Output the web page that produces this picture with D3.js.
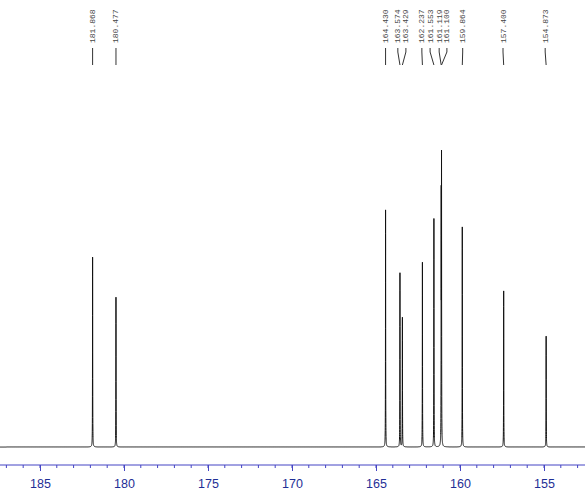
<!DOCTYPE html>
<html>
<head>
<meta charset="utf-8">
<script src="https://cdn.jsdelivr.net/npm/d3@7"></script>
<style>
  body { margin: 0; background: #fff; }
  svg { display: block; }
</style>
</head>
<body>
<div id="chart"></div>
<script>
const width = 585;
const height = 502;

// peak list: shift (ppm) and relative height
const shifts = [181.868, 180.477, 164.430, 163.574, 163.429, 162.237, 161.553, 161.119, 161.100, 159.864, 157.400, 154.873];
const heights = [63.5, 51.5, 79.3, 58.2, 44.5, 63.5, 78.5, 80.5, 92, 73.6, 52.2, 38.1];
// where each label sits (ppm) when crowded
const labelPos = [181.868, 180.477, 164.430, 163.70, 163.22, 162.27, 161.78, 161.24, 160.78, 159.84, 157.44, 154.93];
const majorTicks = [185, 180, 175, 170, 165, 160, 155];

var x = d3.scaleLinear().domain([187.38, 152.56]).range([0, width]);
var y = d3.scaleLinear().domain([0, 100]).range([447, 148]);

var svg = d3.select("#chart").append("svg")
  .attr("width", width)
  .attr("height", height);

// build the trace from the peak list (lorentzian lines)
var hw = 0.006;
var trace = [];
for (var p = 187.4; p >= 152.5; p -= 0.002) {
  var v = 0;
  shifts.forEach((s, i) => {
    var d = p - s;
    v += heights[i] * hw * hw / (hw * hw + d * d);
  });
  trace.push([p, v]);
}

var line = d3.line()
  .x(d => x(d[0]))
  .y(d => y(d[1]));

svg.append("path")
  .datum(trace)
  .attr("d", line)
  .attr("fill", "none")
  .attr("stroke", "#111")
  .attr("stroke-width", 1);

// peak labels
var lab = svg.append("g").selectAll("g").data(shifts).enter().append("g");

lab.append("path")
  .attr("d", (d, i) => {
    var lx = x(labelPos[i]), px = x(d);
    return "M" + lx + ",48L" + lx + ",52L" + px + ",65";
  })
  .attr("fill", "none")
  .attr("stroke", "#333")
  .attr("stroke-width", 1);

lab.append("text")
  .attr("transform", (d, i) => "translate(" + x(labelPos[i]) + ",43) rotate(-90)")
  .attr("dominant-baseline", "central")
  .attr("font-family", "Liberation Mono, DejaVu Sans Mono, monospace")
  .attr("font-size", 8)
  .attr("fill", "#444")
  .text(d => d.toFixed(3));

// axis
var minor = d3.range(153, 188, 1);
var axisG = svg.append("g").attr("transform", "translate(0,465)");

axisG.append("line")
  .attr("x1", 0).attr("x2", width)
  .attr("stroke", "#4444c4")
  .attr("stroke-width", 1);

axisG.selectAll(".minor").data(minor).enter().append("line")
  .attr("class", "minor")
  .attr("x1", d => x(d)).attr("x2", d => x(d))
  .attr("y1", 0).attr("y2", 3)
  .attr("stroke", "#4444c4");

var axis = d3.axisBottom(x)
  .tickValues(majorTicks)
  .tickSize(6)
  .tickFormat(d3.format("d"));

var ax = axisG.append("g").call(axis);
ax.select(".domain").remove();
ax.selectAll(".tick line").attr("stroke", "#4444c4");
ax.selectAll(".tick text")
  .attr("fill", "#1f2f96")
  .attr("font-family", "Liberation Sans, Arial, sans-serif")
  .attr("font-size", 12.5)
  .attr("dy", "1.1em");
</script>
</body>
</html>
